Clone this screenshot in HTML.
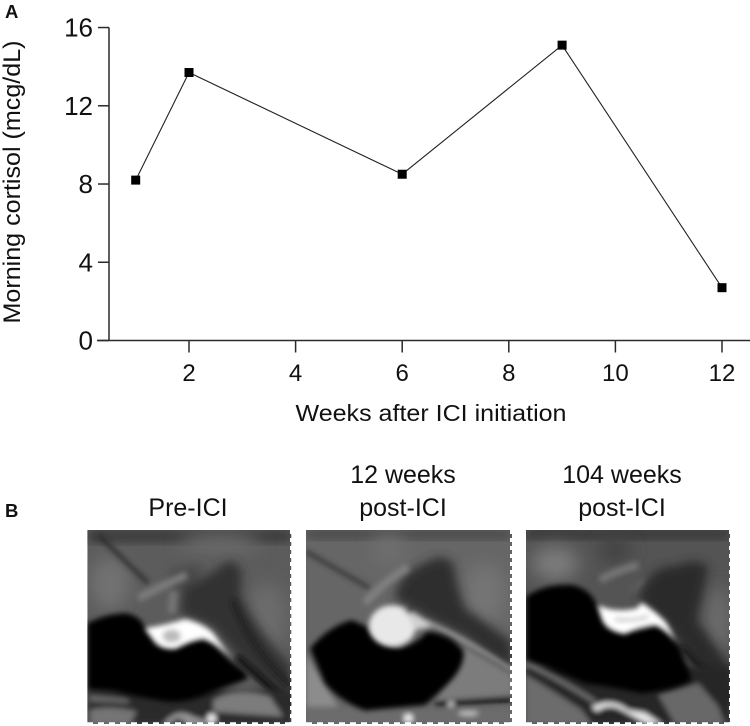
<!DOCTYPE html>
<html>
<head>
<meta charset="utf-8">
<style>
html,body{margin:0;padding:0;background:#fff;}
svg{display:block;font-family:"Liberation Sans",Arial,sans-serif;}
</style>
</head>
<body>
<svg id="fig" xmlns="http://www.w3.org/2000/svg" width="750" height="726" viewBox="0 0 750 726">
<defs>
<filter id="b6" x="-25%" y="-25%" width="150%" height="150%"><feGaussianBlur stdDeviation="8"/></filter>
<filter id="b12" x="-30%" y="-30%" width="160%" height="160%"><feGaussianBlur stdDeviation="15"/></filter>
<filter id="b22" x="-40%" y="-40%" width="180%" height="180%"><feGaussianBlur stdDeviation="26"/></filter>
<clipPath id="c1"><rect x="52" y="30" width="612" height="582"/></clipPath>
<clipPath id="c2"><rect x="33" y="30" width="618" height="582"/></clipPath>
<clipPath id="c3"><rect x="33" y="30" width="612" height="582"/></clipPath>
</defs>

<text x="5" y="18" font-size="18.5" font-weight="bold" fill="#111">A</text>
<text x="5" y="517" font-size="18.5" font-weight="bold" fill="#111">B</text>

<g id="chart"></g>

<text x="188" y="516" font-size="25" text-anchor="middle" fill="#111">Pre-ICI</text>
<text x="403" y="483" font-size="25" text-anchor="middle" fill="#111">12 weeks</text>
<text x="403" y="516" font-size="25" text-anchor="middle" fill="#111">post-ICI</text>
<text x="622" y="483" font-size="25" text-anchor="middle" fill="#111">104 weeks</text>
<text x="622" y="516" font-size="25" text-anchor="middle" fill="#111">post-ICI</text>

<!-- MRI 1 -->
<g transform="translate(70,520) scale(0.33333)">
<g clip-path="url(#c1)">
<rect x="52" y="30" width="612" height="582" fill="#5c5c5c"/>
<rect x="52" y="30" width="612" height="36" fill="#383838" filter="url(#b12)"/>
<g filter="url(#b22)">
<ellipse cx="120" cy="190" rx="60" ry="80" fill="#727272"/>
<ellipse cx="590" cy="290" rx="60" ry="100" fill="#6c6c6c"/>
<ellipse cx="450" cy="70" rx="120" ry="30" fill="#6a6a6a"/>
</g>
<g filter="url(#b12)">
<path d="M340,200 Q420,170 470,125 Q530,120 510,220 Q560,330 664,440 L664,560 Q540,460 430,320 L330,280 Z" fill="#333"/>
<path d="M300,150 L400,130 L380,190 L300,210 Z" fill="#4a4a4a"/>
</g>
<g filter="url(#b6)" fill="none">
<path d="M85,45 L235,190" stroke="#2c2c2c" stroke-width="12"/>
<path d="M205,235 Q270,200 350,165" stroke="#7c7c7c" stroke-width="24"/>
<path d="M310,215 L305,280" stroke="#747474" stroke-width="24"/>
<path d="M490,240 Q530,370 664,500" stroke="#1a1a1a" stroke-width="12"/>
<path d="M500,410 L664,560" stroke="#111" stroke-width="20"/>
</g>
<g filter="url(#b6)">
<rect x="52" y="510" width="612" height="102" fill="#2c2c2c"/>
<path d="M60,525 L170,535 L180,550 L60,545 Z" fill="#666"/>
<path d="M60,570 Q120,555 200,575 L180,612 L60,612 Z" fill="#747474"/>
<path d="M430,540 Q500,500 600,530 L640,590 L430,575 Z" fill="#7c7c7c"/>
<path d="M280,612 Q320,560 370,590 L440,612 Z" fill="#989898"/>
<circle cx="425" cy="595" r="14" fill="#eee"/>
<path d="M300,612 Q325,580 350,612 Z" fill="#111"/>
</g>
<g filter="url(#b6)">
<path d="M52,310 Q110,280 170,280 Q215,290 225,325 L260,375 Q310,395 360,365 Q400,350 430,370 L490,430 Q550,470 525,480 Q470,500 420,520 Q350,550 290,545 Q200,530 130,515 L52,510 Z" fill="#000"/>
</g>
<g filter="url(#b6)">
<path d="M225,325 Q290,315 345,297 Q400,310 430,340 L490,425 Q450,375 400,355 Q350,365 320,385 Q280,392 255,365 Z" fill="#fff"/>
<ellipse cx="305" cy="348" rx="28" ry="20" fill="#bbb"/>
</g>
</g>
</g>

<!-- MRI 2 -->
<g transform="translate(295,520) scale(0.33333)">
<g clip-path="url(#c2)">
<rect x="33" y="30" width="618" height="582" fill="#666"/>
<rect x="33" y="30" width="618" height="26" fill="#444" filter="url(#b12)"/>
<g filter="url(#b22)">
<ellipse cx="570" cy="220" rx="60" ry="90" fill="#747474"/>
<ellipse cx="280" cy="90" rx="50" ry="50" fill="#6e6e6e"/>
</g>
<g filter="url(#b12)">
<path d="M300,235 Q310,160 390,130 Q440,95 475,130 Q485,200 510,265 L651,365 L651,460 L510,350 L400,295 L340,260 Z" fill="#2d2d2d"/>
</g>
<g filter="url(#b6)" fill="none">
<path d="M33,95 L225,205" stroke="#363636" stroke-width="12"/>
<path d="M210,250 Q260,190 340,140" stroke="#808080" stroke-width="24"/>
<path d="M390,305 Q500,350 651,450" stroke="#aaa" stroke-width="10"/>
</g>
<g filter="url(#b6)">
<path d="M510,385 L651,465 L651,525 L420,540 Z" fill="#7c7c7c"/>
<path d="M33,400 Q60,450 130,560 L33,560 Z" fill="#8c8c8c"/>
<rect x="33" y="565" width="618" height="47" fill="#6c6c6c"/>
<path d="M420,545 L651,530 L651,545 L420,560 Z" fill="#050505"/>
<circle cx="340" cy="595" r="14" fill="#ededed"/>
<circle cx="468" cy="552" r="9" fill="#d0d0d0"/>
<ellipse cx="520" cy="580" rx="30" ry="7" fill="#c4c4c4"/>
</g>
<g filter="url(#b6)">
<path d="M45,385 Q100,320 170,300 L215,320 Q250,370 310,385 Q370,370 395,335 Q470,340 505,395 Q510,440 460,490 Q420,530 390,555 L210,572 Q130,540 90,490 Z" fill="#000"/>
</g>
<g filter="url(#b6)">
<ellipse cx="292" cy="318" rx="70" ry="62" fill="#e8e8e8"/>
<path d="M330,270 Q380,285 410,320 L360,330 Z" fill="#d0d0d0"/>
<ellipse cx="345" cy="272" rx="16" ry="8" fill="#333"/>
</g>
</g>
</g>

<!-- MRI 3 -->
<g transform="translate(515,520) scale(0.33333)">
<g clip-path="url(#c3)">
<rect x="33" y="30" width="612" height="582" fill="#545454"/>
<rect x="33" y="30" width="612" height="26" fill="#303030" filter="url(#b12)"/>
<g filter="url(#b22)">
<ellipse cx="120" cy="130" rx="70" ry="50" fill="#7c7c7c"/>
<ellipse cx="610" cy="300" rx="40" ry="100" fill="#6c6c6c"/>
<ellipse cx="300" cy="90" rx="50" ry="40" fill="#424242"/>
</g>
<g filter="url(#b12)">
<path d="M380,210 Q420,130 480,140 Q540,110 580,140 Q560,240 545,300 L645,440 L645,560 Q540,450 480,350 L370,240 Z" fill="#2c2c2c"/>
</g>
<g filter="url(#b6)" fill="none">
<path d="M255,180 Q310,150 370,135" stroke="#747474" stroke-width="24"/>
<path d="M350,215 L385,175" stroke="#5e5e5e" stroke-width="14"/>
<path d="M500,380 L645,540" stroke="#151515" stroke-width="14"/>
</g>
<g filter="url(#b6)">
<rect x="33" y="440" width="612" height="172" fill="#262626"/>
<path d="M33,465 Q110,510 200,570 L230,612 L33,612 Z" fill="#6c6c6c"/>
<path d="M430,525 L550,490 L610,560 L630,612 L480,612 Z" fill="#686868"/>
<path d="M230,560 Q290,530 340,570 L390,578 L440,612 L395,612 L320,570 Q280,548 245,575 Z" fill="#e8e8e8"/>
<path d="M33,430 Q120,470 240,545" fill="none" stroke="#7c7c7c" stroke-width="10"/>
</g>
<g filter="url(#b6)">
<path d="M33,230 Q90,190 170,195 Q225,205 245,255 L275,320 Q330,350 425,315 L480,350 Q510,420 530,480 Q480,510 380,520 Q290,500 210,490 Q120,450 33,420 Z" fill="#000"/>
</g>
<g filter="url(#b6)">
<path d="M248,255 Q300,280 365,265 L380,248 Q430,280 455,310 L490,375 Q450,325 420,315 Q370,320 330,342 Q280,335 262,300 Z" fill="#fff"/>
<path d="M300,298 Q350,305 400,290" fill="none" stroke="#a0a0a0" stroke-width="7"/>
</g>
</g>
</g>

<g id="dashes"></g>

<script>
var weeks = [1, 2, 6, 9, 12];
var cortisol = [8.2, 13.7, 8.5, 15.1, 2.7];
var xTicks = [2, 4, 6, 8, 10, 12];
var yTicks = [0, 4, 8, 12, 16];

var NS = 'http://www.w3.org/2000/svg';
var chart = document.getElementById('chart');
function xScale(v) { return 189 + (v - 2) * 53.3; }
function yScale(v) { return 340.5 - v * 19.56; }
function add(parent, tag, attrs, text) {
  var el = document.createElementNS(NS, tag);
  for (var k in attrs) el.setAttribute(k, attrs[k]);
  if (text !== undefined) el.textContent = text;
  parent.appendChild(el);
  return el;
}
var axisColor = '#2a2a2a';

var yAxis = add(chart, 'line', {x1: 109, x2: 109, y1: yScale(16), y2: yScale(0), stroke: axisColor, 'stroke-width': 1.5});


var xAxis = add(chart, 'line', {x1: 97, x2: 750, y1: yScale(0), y2: yScale(0), stroke: axisColor, 'stroke-width': 1.5});



yTicks.forEach(function (t) {
  var tick = add(chart, 'line', {x1: 98, x2: 109, y1: yScale(t), y2: yScale(t), stroke: axisColor, 'stroke-width': 1.5});
  
  
  var label = add(chart, 'text', {x: 93, y: yScale(t) + 9, 'font-size': 26, 'text-anchor': 'end', fill: '#111'}, String(t));
  
  
});
xTicks.forEach(function (t) {
  var tick = add(chart, 'line', {x1: xScale(t), x2: xScale(t), y1: yScale(0), y2: yScale(0) + 12, stroke: axisColor, 'stroke-width': 1.5});
  
  
  var label = add(chart, 'text', {x: xScale(t), y: 381, 'font-size': 24, 'text-anchor': 'middle', fill: '#111'}, String(t));
  
  
});

var pts = weeks.map(function (w, i) { return xScale(w) + ',' + yScale(cortisol[i]); }).join(' ');
var line = add(chart, 'polyline', {points: pts, fill: 'none', stroke: '#222', 'stroke-width': 1.1});


weeks.forEach(function (w, i) {
  var m = add(chart, 'rect', {x: xScale(w) - 4.5, y: yScale(cortisol[i]) - 4.5, width: 9, height: 9, fill: '#000'});
  
  
});

var xt = add(chart, 'text', {x: 431, y: 421, 'font-size': 23.5, 'text-anchor': 'middle', fill: '#111', textLength: 271, lengthAdjust: 'spacingAndGlyphs'}, 'Weeks after ICI initiation');


var yt = add(chart, 'text', {x: 0, y: 0, transform: 'translate(20,182) rotate(-90)', 'font-size': 24, 'text-anchor': 'middle', fill: '#111', textLength: 283, lengthAdjust: 'spacingAndGlyphs'}, 'Morning cortisol (mcg/dL)');



// white dashed edges on the MRI panels
var dashes = document.getElementById('dashes');
[[291, 87], [511, 306], [730, 526]].forEach(function (p) {
  add(dashes, 'line', {x1: p[0], x2: p[0], y1: 530, y2: 724, stroke: '#fff', 'stroke-width': 2, 'stroke-dasharray': '4 4'});
  add(dashes, 'line', {x1: p[1], x2: p[0], y1: 723.5, y2: 723.5, stroke: '#fff', 'stroke-width': 2.5, 'stroke-dasharray': '6 5'});
});
</script>
</svg>
</body>
</html>
